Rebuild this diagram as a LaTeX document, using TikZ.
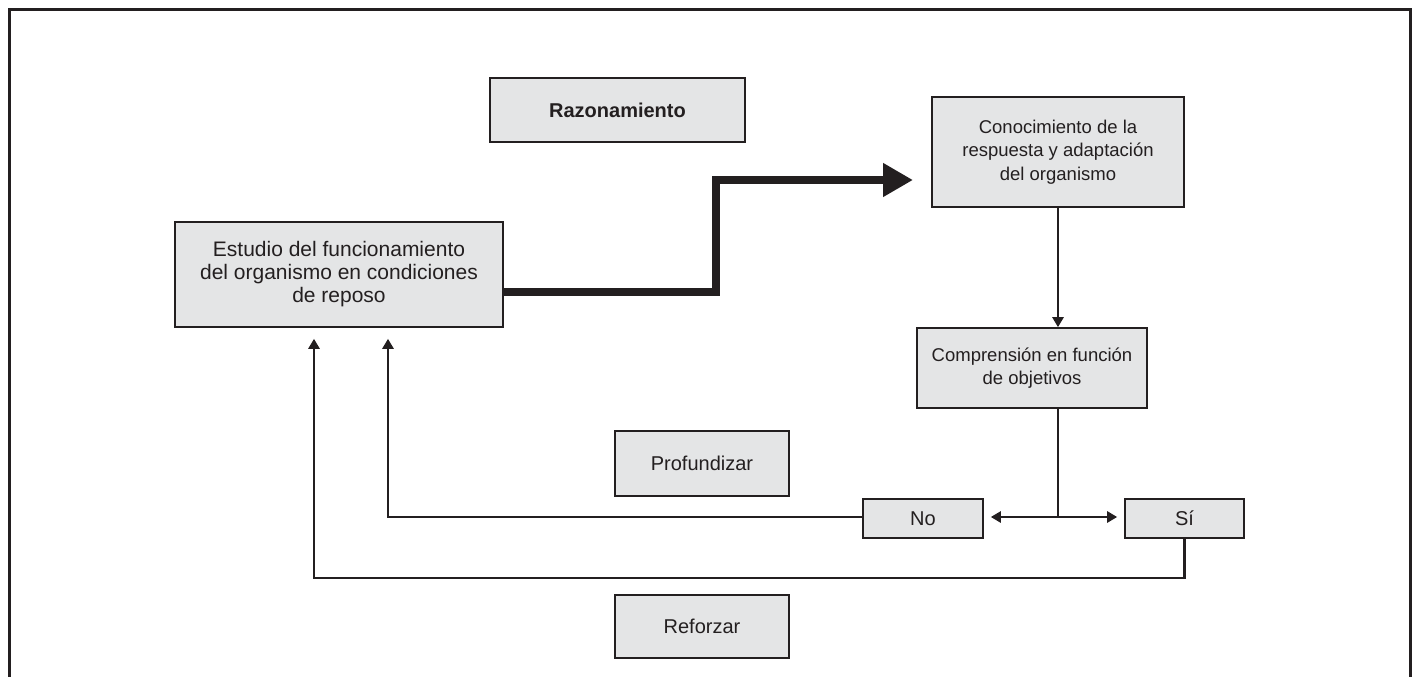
\documentclass[tikz,border=0pt]{standalone}
\usepackage{fontspec}
\setmainfont{Liberation Sans}
\usetikzlibrary{arrows.meta,calc}
\definecolor{ink}{HTML}{231F20}
\definecolor{boxfill}{HTML}{E4E5E6}
\begin{document}
\begin{tikzpicture}[x=1pt,y=-1pt,
  box/.style={draw=ink,line width=1.6pt,fill=boxfill,align=center,inner sep=0pt,
    font=\fontsize{18.5}{23.5}\selectfont,text=ink},
  bigtext/.style={font=\fontsize{21}{23}\selectfont},
  wordtext/.style={font=\fontsize{20}{23}\selectfont},
  conn/.style={draw=ink,line width=2.6pt,-{Triangle[width=11pt,length=10pt]}},
  thick conn/.style={draw=ink,line width=8pt,-{Triangle[width=32pt,length=30pt]}}]
\useasboundingbox (0,0) rectangle (1417,677);
\draw[ink,line width=3pt] (9,680) -- (9,10) -- (1410,10) -- (1410,680);
\node[box,wordtext,minimum width=255pt,minimum height=64pt] (raz) at (617.5,110) {\textbf{Razonamiento}};
\node[box,minimum width=252pt,minimum height=110pt] (con) at (1058,152) {Conocimiento de la\\respuesta y adaptación\\del organismo};
\node[box,bigtext,minimum width=328pt,minimum height=105pt] (est) at (339,274.5) {Estudio del funcionamiento\\del organismo en condiciones\\de reposo};
\node[box,minimum width=230pt,minimum height=80pt] (com) at (1032,368) {Comprensión en función\\de objetivos};
\node[box,wordtext,minimum width=174pt,minimum height=65pt] (prof) at (702,463.5) {Profundizar};
\node[box,wordtext,minimum width=120pt,minimum height=39pt] (no) at (923,518.5) {No};
\node[box,wordtext,minimum width=119pt,minimum height=39pt] (si) at (1184.5,518.5) {Sí};
\node[box,wordtext,minimum width=174pt,minimum height=63pt] (ref) at (702,626.5) {Reforzar};
% thick connector
\coordinate (bend1) at (716,292);
\coordinate (tip) at (913,180);
\draw[thick conn] (est.east |- bend1) -- (bend1) -- (bend1 |- tip) -- (tip);
% conocimiento -> comprension
\draw[conn] (con.south) -- (con.south |- com.north);
% junction
\coordinate (j) at (1058,517);
\draw[ink,line width=2.6pt] (con.south |- com.south) -- (j);
\draw[conn,shorten >=7pt] (j) -- (no.east |- j);
\draw[conn,shorten >=7pt] (j) -- (si.west |- j);
% No -> estudio
\coordinate (nl) at (388,517);
\draw[conn,shorten >=11pt] (no.west |- nl) -- (nl) -- (nl |- est.south);
% Si -> estudio
\coordinate (sl) at (314,578);
\draw[conn,shorten >=11pt] (si.south) -- (si.south |- sl) -- (sl) -- (sl |- est.south);
\end{tikzpicture}
\end{document}
